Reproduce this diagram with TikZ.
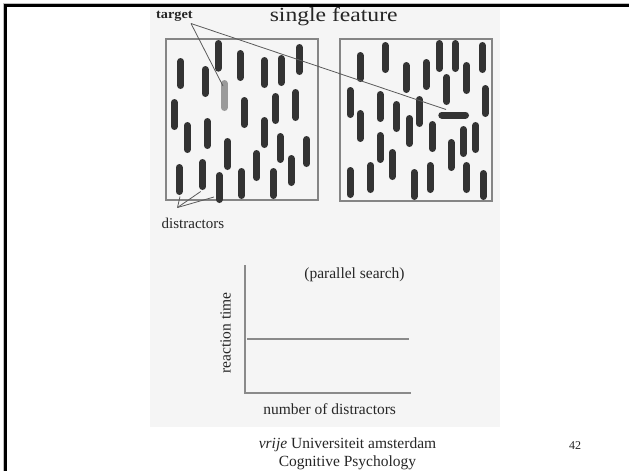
\documentclass[tikz,border=0pt]{standalone}
\usepackage{fontspec}
\setmainfont{Liberation Serif}
\definecolor{bgpanel}{HTML}{F5F5F5}
\definecolor{barcol}{HTML}{333333}
\definecolor{tgtcol}{HTML}{9A9A9A}
\definecolor{boxcol}{HTML}{858585}
\definecolor{ptrcol}{HTML}{5A5A5A}
\definecolor{axcol}{HTML}{8A8A8A}
\tikzset{
  barstyle/.style={draw=barcol,line width=7pt,line cap=round},
  tgtbar/.style={draw=tgtcol,line width=7pt,line cap=round},
  panelbox/.style={draw=boxcol,line width=1.3pt},
  pointer/.style={draw=ptrcol,line width=0.8pt},
  axis/.style={draw=axcol,line width=1.5pt},
  lbl/.style={inner sep=0pt,anchor=base,text=black!85},
}
\newcommand\mybar[3]{\draw[barstyle] (#1,{#2+3.5}) -- (#1,{#3-3.5});}
\begin{document}
\begin{tikzpicture}[x=1pt,y=-1pt]
\useasboundingbox (0,0) rectangle (629,471);
\fill[white] (0,0) rectangle (629,471);
% figure background
\fill[bgpanel] (150,7) rectangle (500,427);
% slide frame
\draw[black!25,line width=0.8pt] (3.4,471) -- (3.4,3.4) -- (629,3.4);
\draw[black,line width=2.4pt] (5.4,471) -- (5.4,5.4) -- (629,5.4);
% panels
\draw[panelbox] (166,39) rectangle (318,200);
\draw[panelbox] (340,39) rectangle (492,201);
% left panel bars
\mybar{218.3}{40}{71.7}
\mybar{180.7}{58}{89}
\mybar{205}{66}{97}
\mybar{240}{50}{81}
\mybar{264.3}{57}{88}
\mybar{281}{55}{86}
\mybar{299.3}{44}{75}
\mybar{174.3}{99}{130}
\mybar{244}{97}{128}
\mybar{275.7}{93}{124}
\mybar{295.7}{89}{121}
\mybar{187.3}{122}{153}
\mybar{207.3}{118}{149}
\mybar{264.3}{117}{148}
\mybar{227.7}{138}{170}
\mybar{280}{133}{163}
\mybar{306.7}{136}{167}
\mybar{256.7}{150}{181}
\mybar{291}{155}{186}
\mybar{179}{164}{195}
\mybar{202.7}{159}{190}
\mybar{219.3}{172}{203}
\mybar{241.7}{168}{199}
\mybar{273.3}{168}{199}
\draw[tgtbar] (224.3,83.5) -- (224.3,107.5);
% right panel bars
\mybar{360}{52}{82}
\mybar{385}{42}{73}
\mybar{406}{62}{93}
\mybar{426}{59}{90}
\mybar{439}{40}{72}
\mybar{455}{40}{72}
\mybar{466.7}{62}{94}
\mybar{482.3}{42}{73}
\mybar{446.7}{74}{105}
\mybar{350}{87}{118}
\mybar{380}{91}{122}
\mybar{396.7}{101}{132}
\mybar{419.3}{96}{127}
\mybar{485}{85}{117}
\mybar{360}{110}{142}
\mybar{409.3}{115}{147}
\mybar{432.3}{121}{152}
\mybar{463.3}{126}{157}
\mybar{475.7}{122}{153}
\mybar{380}{132}{163}
\mybar{451}{139}{171}
\mybar{392.3}{149}{180}
\mybar{370.7}{162}{193}
\mybar{350}{167}{198}
\mybar{414}{169}{200}
\mybar{430}{162}{193}
\mybar{466.7}{162}{193}
\mybar{483.3}{170}{200}
\draw[barstyle] (441.8,115) -- (465.5,115);
% coordinates of pointed items
\coordinate (tgtL) at (223,86);
\coordinate (tgtR) at (446,109.5);
\coordinate (d1) at (180,196.5);
\coordinate (d2) at (200.7,191.5);
\coordinate (d3) at (214,197);
% labels
\node[lbl,xscale=1.18,font=\fontsize{20}{24}\selectfont] (title) at (333.7,21.7) {single feature};
\node[lbl,anchor=base west,xscale=1.1,font=\fontsize{13}{16}\selectfont\bfseries] (target) at (156,18.6) {target};
\node[lbl,anchor=base west,font=\fontsize{15}{18}\selectfont] (distr) at (161.5,228) {distractors};
\coordinate (tgtfrom) at (191,23.5);
\coordinate (dfrom) at (177.5,207.5);
\draw[pointer] (tgtfrom) -- (tgtL);
\draw[pointer] (tgtfrom) -- (tgtR);
\draw[pointer] (dfrom) -- (d1);
\draw[pointer] (dfrom) -- (d2);
\draw[pointer] (dfrom) -- (d3);
% graph
\coordinate (orig) at (245,393);
\coordinate (ytop) at (245,265);
\coordinate (xend) at (411,393);
\draw[axis] (ytop) -- (orig) -- (xend);
\coordinate (h1) at (247,339);
\coordinate (h2) at (409,339);
\draw[axis,line width=1.3pt] (h1) -- (h2);
\node[lbl,font=\fontsize{15.5}{18}\selectfont] (par) at (354.5,278) {(parallel search)};
\node[lbl,rotate=90,anchor=center,font=\fontsize{15.5}{18}\selectfont] (rt) at (225.5,333) {reaction time};
\node[lbl,font=\fontsize{15.5}{18}\selectfont] (nd) at (329.7,414) {number of distractors};
% footer
\node[lbl,font=\fontsize{15.5}{18}\selectfont] (uni) at (347.5,448) {\textit{vrije} Universiteit amsterdam};
\node[lbl,font=\fontsize{15.5}{18}\selectfont] (cog) at (347.5,466) {Cognitive Psychology};
\node[lbl,font=\fontsize{12}{14}\selectfont] (pg) at (575,449) {42};
\end{tikzpicture}
\end{document}
